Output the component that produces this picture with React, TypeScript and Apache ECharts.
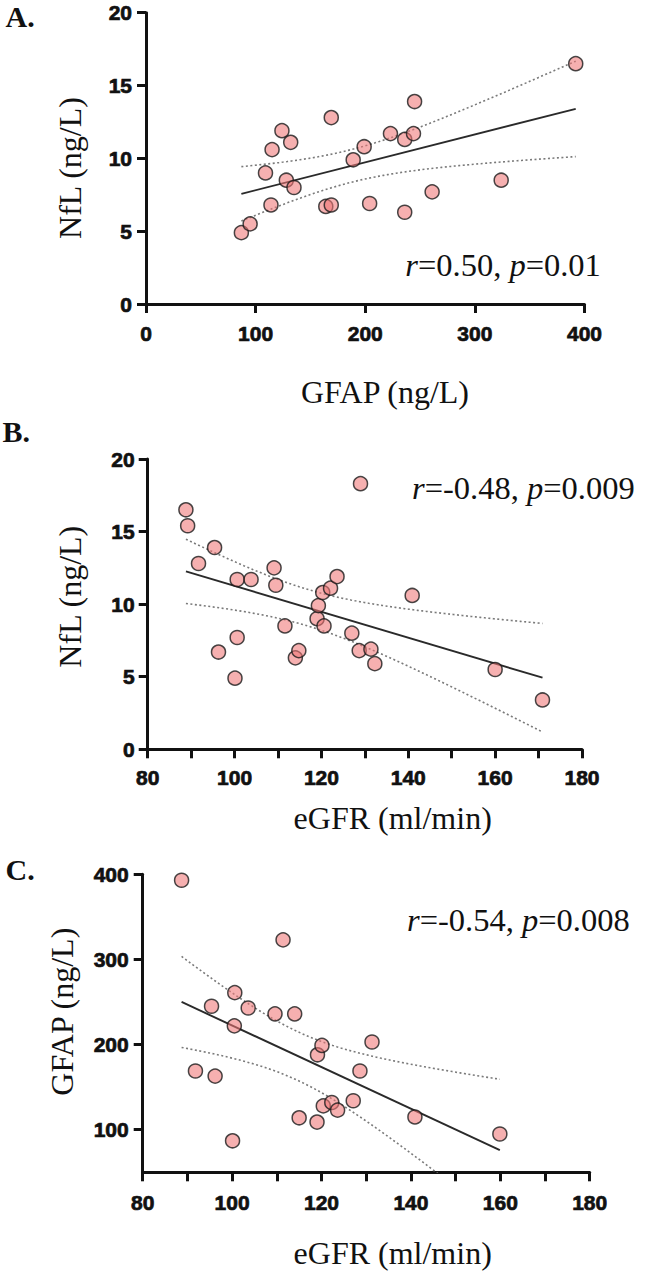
import React, { useEffect, useRef } from "react";
import * as echarts from "echarts";

// Panel A: GFAP (x) vs NfL (y)
const gfapA = [87, 95, 109, 115, 114, 124, 128, 132, 135, 164, 169, 169, 189, 199, 204, 223, 236, 244, 245, 236, 261, 324, 392];
const nflA = [4.9, 5.5, 9.0, 10.6, 6.8, 11.9, 8.5, 11.1, 8.0, 6.7, 6.8, 12.8, 9.9, 10.8, 6.9, 11.7, 11.3, 11.7, 13.9, 6.3, 7.7, 8.5, 16.5];

// Panel B: eGFR (x) vs NfL (y)
const egfrB = [88.8, 89.2, 91.7, 95.4, 96.3, 100.1, 100.6, 100.6, 103.8, 109.1, 109.5, 111.6, 114.0, 114.8, 119.0, 119.3, 120.6, 120.3, 122.1, 123.6, 127.0, 129.0, 128.7, 131.4, 132.3, 140.9, 160.0, 170.9];
const nflB = [16.5, 15.4, 12.8, 13.9, 6.7, 4.9, 11.7, 7.7, 11.7, 12.5, 11.3, 8.5, 6.3, 6.8, 9.0, 9.9, 8.5, 10.8, 11.1, 11.9, 8.0, 18.3, 6.8, 6.9, 5.9, 10.6, 5.5, 3.4];

// Panel C: eGFR (x) vs GFAP (y)
const egfrC = [88.7, 91.8, 95.4, 96.2, 100.1, 100.6, 100.5, 103.6, 109.6, 111.4, 114.0, 115.0, 119.0, 119.1, 120.1, 120.4, 122.3, 123.6, 127.1, 128.6, 131.3, 140.9, 159.9];
const gfapC = [393, 169, 245, 163, 87, 261, 222, 243, 236, 323, 236, 114, 109, 188, 199, 128, 132, 123, 134, 169, 203, 115, 95];

// Tick labels
const xTicksA = [0, 100, 200, 300, 400];
const yTicksA = [0, 5, 10, 15, 20];
const xTicksBC = [80, 100, 120, 140, 160, 180];
const yTicksB = [0, 5, 10, 15, 20];
const yTicksC = [100, 200, 300, 400];

// Texts
const panelLabels = ["A.", "B.", "C."];
const xTitles = ["GFAP (ng/L)", "eGFR (ml/min)", "eGFR (ml/min)"];
const yTitles = ["NfL (ng/L)", "NfL (ng/L)", "GFAP (ng/L)"];
const rValues = ["0.50", "-0.48", "-0.54"];
const pValues = ["0.01", "0.009", "0.008"];

function tCrit(df: number) {
  const z = 1.959964;
  const z3 = z * z * z, z5 = z3 * z * z, z7 = z5 * z * z;
  return z + (z3 + z) / (4 * df) + (5 * z5 + 16 * z3 + 3 * z) / (96 * df * df) +
    (3 * z7 + 19 * z5 + 17 * z3 - 15 * z) / (384 * df * df * df);
}

function fit(xs: number[], ys: number[]) {
  const n = xs.length;
  const mx = xs.reduce((a, b) => a + b, 0) / n;
  const my = ys.reduce((a, b) => a + b, 0) / n;
  let sxx = 0, sxy = 0, syy = 0;
  for (let i = 0; i < n; i++) {
    sxx += (xs[i] - mx) ** 2;
    sxy += (xs[i] - mx) * (ys[i] - my);
    syy += (ys[i] - my) ** 2;
  }
  const b = sxy / sxx;
  const a = my - b * mx;
  const s = Math.sqrt((syy - (sxy * sxy) / sxx) / (n - 2));
  const t = tCrit(n - 2);
  const x0 = Math.min(...xs), x1 = Math.max(...xs);
  const line = [[x0, a + b * x0], [x1, a + b * x1]];
  const upper: number[][] = [], lower: number[][] = [];
  const steps = 80;
  for (let k = 0; k <= steps; k++) {
    const x = x0 + ((x1 - x0) * k) / steps;
    const yh = a + b * x;
    const hw = t * s * Math.sqrt(1 / n + (x - mx) ** 2 / sxx);
    upper.push([x, yh + hw]);
    lower.push([x, yh - hw]);
  }
  return { line, upper, lower };
}

const SANS = "Liberation Sans";
const SERIF = "Liberation Serif";

export default function App() {
  const ref = useRef<HTMLDivElement>(null);

  useEffect(() => {
    if (!ref.current) return;
    const chart = echarts.init(ref.current, undefined, { renderer: "svg" });

    const panels = [
      { xs: gfapA, ys: nflA },
      { xs: egfrB, ys: nflB },
      { xs: egfrC, ys: gfapC },
    ];

    const grids = [
      { left: 146, top: 12.7, width: 438.5, height: 291.3 },
      { left: 147.7, top: 459, width: 434.3, height: 290.3 },
      { left: 142.7, top: 874.3, width: 447, height: 298 },
    ];

    const axisLine = { show: true, lineStyle: { color: "#111", width: 3 } };
    const axisTick = { show: true, length: 9, lineStyle: { color: "#111", width: 3 } };
    const labelStyle = {
      color: "#111", fontFamily: SANS, fontWeight: "bold" as const, fontSize: 21,
      textBorderColor: "#111", textBorderWidth: 0.7,
    };

    const xAxes = [
      {
        gridIndex: 0, type: "value", min: xTicksA[0], max: xTicksA[xTicksA.length - 1], interval: 100,
        axisLine, axisTick, splitLine: { show: false },
        axisLabel: { ...labelStyle, margin: 19, showMaxLabel: true, showMinLabel: true },
      },
      {
        gridIndex: 1, type: "value", min: xTicksBC[0], max: xTicksBC[xTicksBC.length - 1], interval: 10,
        axisLine, axisTick, splitLine: { show: false },
        axisLabel: { ...labelStyle, margin: 18, formatter: (v: number) => (xTicksBC.includes(v) ? String(v) : "") },
      },
      {
        gridIndex: 2, type: "value", min: xTicksBC[0], max: xTicksBC[xTicksBC.length - 1], interval: 10,
        axisLine, axisTick, splitLine: { show: false },
        axisLabel: { ...labelStyle, margin: 20, formatter: (v: number) => (xTicksBC.includes(v) ? String(v) : "") },
      },
    ];

    const yAxes = [
      {
        gridIndex: 0, type: "value", min: yTicksA[0], max: yTicksA[yTicksA.length - 1], interval: 5,
        axisLine, axisTick, splitLine: { show: false },
        axisLabel: { ...labelStyle, margin: 14 },
      },
      {
        gridIndex: 1, type: "value", min: yTicksB[0], max: yTicksB[yTicksB.length - 1], interval: 5,
        axisLine, axisTick, splitLine: { show: false },
        axisLabel: { ...labelStyle, margin: 13 },
      },
      {
        gridIndex: 2, type: "value", min: 50, max: yTicksC[yTicksC.length - 1],
        axisLine, axisTick: { ...axisTick, customValues: yTicksC }, splitLine: { show: false },
        axisLabel: { ...labelStyle, margin: 14, customValues: yTicksC },
      },
    ];

    const series: any[] = [];
    panels.forEach((p, i) => {
      const f = fit(p.xs, p.ys);
      series.push({
        type: "line", xAxisIndex: i, yAxisIndex: i, data: f.upper, symbol: "none", silent: true, z: 1,
        lineStyle: { color: "#7a7a7a", width: 1.6, type: [2, 2.5] },
      });
      series.push({
        type: "line", xAxisIndex: i, yAxisIndex: i, data: f.lower, symbol: "none", silent: true, z: 1,
        lineStyle: { color: "#7a7a7a", width: 1.6, type: [2, 2.5] },
      });
      series.push({
        type: "line", xAxisIndex: i, yAxisIndex: i, data: f.line, symbol: "none", silent: true, z: 2,
        lineStyle: { color: "#2a2a2a", width: 1.9 },
      });
      series.push({
        type: "scatter", xAxisIndex: i, yAxisIndex: i, z: 3,
        data: p.xs.map((x, k) => [x, p.ys[k]]),
        symbolSize: 14,
        itemStyle: { color: "rgba(240,118,118,0.72)", borderColor: "#1a1a1a", borderWidth: 1.5 },
      });
    });

    const panelLabelPos = [
      { x: 5.5, y: 16 },
      { x: 2.5, y: 431.7 },
      { x: 5.5, y: 869 },
    ];
    const xTitlePos = [
      { x: 385, y: 391.7 },
      { x: 392.7, y: 818 },
      { x: 392.7, y: 1253 },
    ];
    const yTitlePos = [
      { x: 70, y: 168 },
      { x: 70, y: 596.7 },
      { x: 61.5, y: 1011.7 },
    ];
    const statPos = [
      { x: 405.3, y: 265 },
      { x: 412, y: 488.3 },
      { x: 407, y: 920 },
    ];

    const graphic: any[] = [];
    for (let i = 0; i < 3; i++) {
      graphic.push({
        type: "text", x: panelLabelPos[i].x, y: panelLabelPos[i].y,
        style: { text: panelLabels[i], fontFamily: SERIF, fontWeight: "bold", fontSize: 30, fill: "#111", align: "left", verticalAlign: "middle" },
      });
      graphic.push({
        type: "text", x: xTitlePos[i].x, y: xTitlePos[i].y,
        style: { text: xTitles[i], fontFamily: SERIF, fontSize: 32, fill: "#111", align: "center", verticalAlign: "middle" },
      });
      graphic.push({
        type: "text", x: yTitlePos[i].x, y: yTitlePos[i].y, rotation: Math.PI / 2,
        style: { text: yTitles[i], fontFamily: SERIF, fontSize: 32, fill: "#111", align: "center", verticalAlign: "middle" },
      });
      graphic.push({
        type: "text", x: statPos[i].x, y: statPos[i].y,
        style: {
          text: `{i|r}=${rValues[i]}, {i|p}=${pValues[i]}`,
          fontFamily: SERIF, fontSize: 32.5, fill: "#111", align: "left", verticalAlign: "middle",
          rich: { i: { fontStyle: "italic", fontFamily: SERIF, fontSize: 32.5, fill: "#111" } },
        },
      });
    }

    chart.setOption({
      animation: false,
      backgroundColor: "#ffffff",
      grid: grids,
      xAxis: xAxes,
      yAxis: yAxes,
      series,
      graphic,
    });

    return () => chart.dispose();
  }, []);

  return (
    <div
      ref={ref}
      style={{ position: "absolute", left: 0, top: 0, width: 645, height: 1277, background: "#fff" }}
    />
  );
}
